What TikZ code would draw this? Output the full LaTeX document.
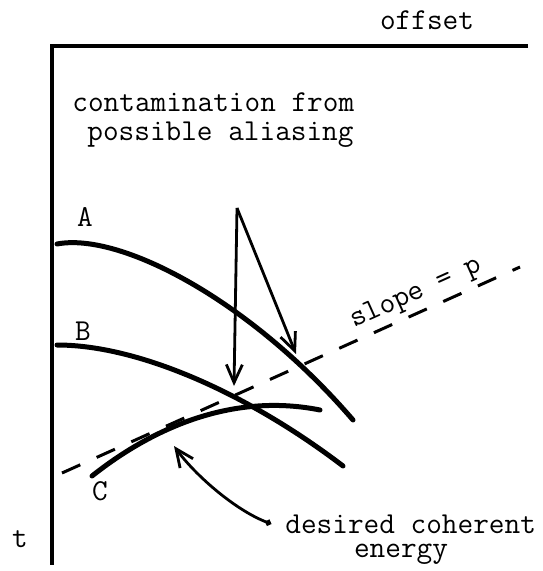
\documentclass[tikz,border=0pt]{standalone}
\usetikzlibrary{arrows.meta}

\begin{document}
\begin{tikzpicture}[x=0.5pt,y=-0.5pt,
  curve/.style={line width=2.5pt,line cap=round},
  pointer/.style={line width=1.4pt,-{Straight Barb[length=9pt,width=8pt]}},
  lbl/.style={font=\ttfamily\fontsize{15.2}{18}\selectfont,inner sep=0pt}]
\useasboundingbox (0,0) rectangle (542,571);

% axes
\coordinate (corner) at (52,46);
\coordinate (xend) at (528,46);
\coordinate (tend) at (52,565);
\draw[line width=2pt] (xend) -- (corner) -- (tend);
\node[lbl,anchor=base] (offset) at (427,30) {offset};
\node[lbl,anchor=base] (t) at (20,547) {t};

\node[lbl,anchor=base west] (contam) at (72,112) {contamination from};
\node[lbl,anchor=base west] (alias) at (87,141) {possible aliasing};

% events
\draw[curve] (57,244) .. controls (120,232) and (250,300) .. (353,420);
\draw[curve] (57,345) .. controls (140,345) and (250,395) .. (343,466);
\draw[curve] (92,476) .. controls (150,430) and (230,392) .. (320,410);
\node[lbl,anchor=base] (A) at (85,227) {A};
\node[lbl,anchor=base] (B) at (83,340) {B};
\node[lbl,anchor=base] (C) at (100,500) {C};

% slope line
\coordinate (s0) at (62,473);
\coordinate (s1) at (520,267);
\draw[line width=1.5pt,dash pattern=on 10pt off 9pt] (s0) -- node[lbl,sloped,above=2pt,pos=0.79] (slope) {slope = p} (s1);

% aliasing pointers
\coordinate (apex) at (237,208);
\coordinate (hitA) at (296,354);
\coordinate (hitB) at (234,386);
\draw[pointer] (apex) -- (hitA);
\draw[pointer] (apex) -- (hitB);

% coherent energy
\node[lbl,anchor=base west] (desired) at (285,533) {desired coherent};
\node[lbl,anchor=base] (energy) at (401,557) {energy};
\coordinate (hitC) at (174,446);
\draw[pointer,{Circle[length=3pt]}-{Straight Barb[length=9pt,width=8pt]}] ([xshift=-7pt]desired.west) .. controls (235,510) and (195,475) .. (hitC);
\end{tikzpicture}
\end{document}
